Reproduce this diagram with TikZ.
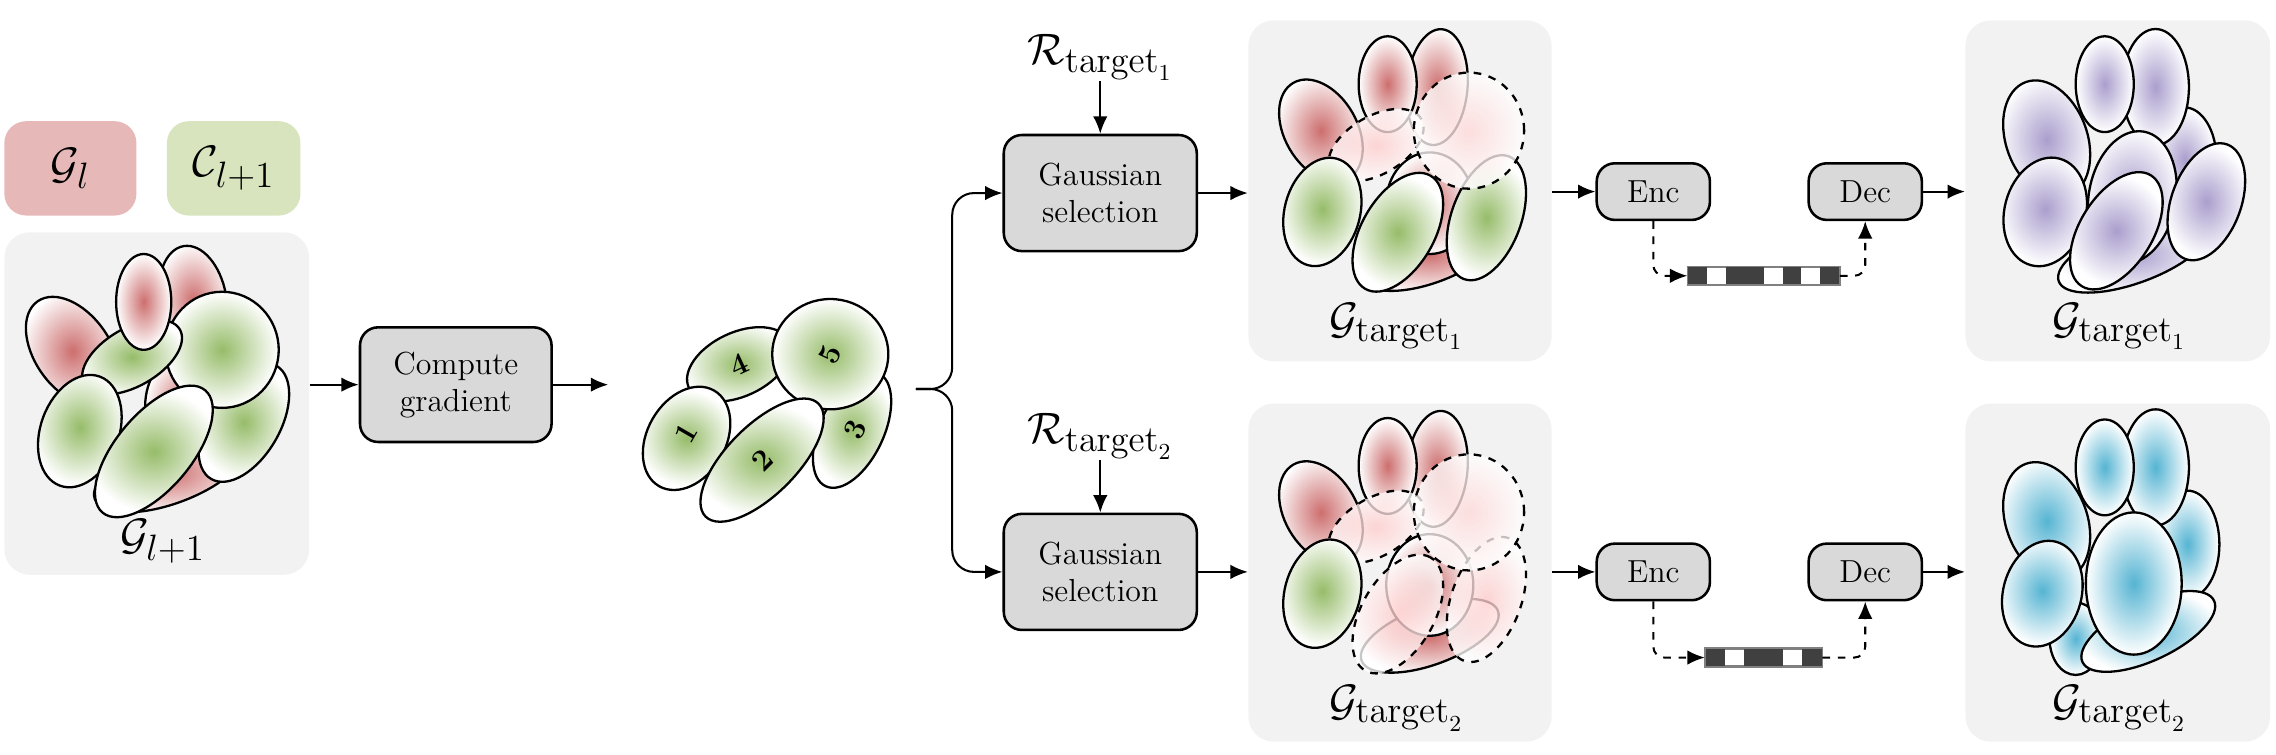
\documentclass[tikz,border=0pt]{standalone}
\usetikzlibrary{arrows.meta}
\definecolor{redc}{RGB}{205,110,110}
\definecolor{greenc}{RGB}{150,188,105}
\definecolor{purc}{RGB}{170,158,205}
\definecolor{bluc}{RGB}{85,180,210}
\definecolor{glfill}{RGB}{230,185,184}
\definecolor{clfill}{RGB}{215,228,189}
\definecolor{panelc}{RGB}{242,242,242}
\definecolor{boxc}{RGB}{217,217,217}
\definecolor{barc}{RGB}{64,64,64}
\newcommand\gell[7]{\shade[draw=black,line width=0.9pt,inner color=#6,outer color=white,rotate around={#5:(#1,-#2)},#7] (#1,-#2) ellipse (#3 and #4);}
\tikzset{
  panel/.style={fill=panelc,rounded corners=0.35cm,inner sep=0},
  box/.style={draw=black,line width=1pt,fill=boxc,rounded corners=0.25cm,align=center,font=\fontsize{12.5}{14.5}\selectfont,inner sep=0},
  arr/.style={-{Latex[length=2.4mm,width=2mm]},line width=0.8pt},
  dsh/.style={dashed,fill opacity=0.78},
  lab/.style={font=\fontsize{19}{21}\selectfont,inner sep=0},
  num/.style={font=\fontsize{12}{14}\selectfont\bfseries,inner sep=0}
}
\begin{document}
\begin{tikzpicture}[x=0.02cm,y=0.02cm]
\useasboundingbox (0,0) rectangle (1568,-520);
\node[panel,fill=glfill,rounded corners=0.3cm,minimum width=1.82cm,minimum height=1.3cm] (gl) at (48.5,-116) {};
\node[lab] at (gl) {$\mathcal{G}_l$};
\node[panel,fill=clfill,rounded corners=0.3cm,minimum width=1.84cm,minimum height=1.3cm] (cl) at (161,-116) {};
\node[lab] at (cl) {$\mathcal{C}_{l+1}$};
\node[panel,minimum width=4.2cm,minimum height=4.72cm] (lp) at (108,-278) {};
\node[panel,minimum width=4.18cm,minimum height=4.7cm] (m1) at (964.5,-131.5) {};
\node[panel,minimum width=4.2cm,minimum height=4.7cm] (o1) at (1459,-131.5) {};
\node[panel,minimum width=4.18cm,minimum height=4.66cm] (m2) at (964.5,-394.5) {};
\node[panel,minimum width=4.2cm,minimum height=4.66cm] (o2) at (1459,-394.5) {};
\gell{117}{325}{55}{22}{20}{redc}{}
\gell{125}{280}{25}{35}{0}{redc}{}
\gell{168}{291}{45}{25}{60}{greenc}{}
\gell{50}{242}{42}{26}{-55}{redc}{}
\gell{133}{207}{23}{38}{10}{redc}{}
\gell{153}{241}{39}{40}{0}{greenc}{}
\gell{91}{246}{38}{20}{30}{greenc}{}
\gell{99}{208}{19}{33}{0}{redc}{}
\gell{55}{297}{40}{27}{70}{greenc}{}
\gell{106}{311}{55}{26}{50}{greenc}{}
\node[lab] at (112,-373) {$\mathcal{G}_{l+1}$};
\node[box,minimum width=2.64cm,minimum height=1.58cm] (cg) at (314,-265) {Compute\\gradient};
\coordinate (ce) at (419,-265);
\draw[arr] (lp.east|-cg.west) -- (cg.west);
\draw[arr] (cg.east) -- (ce);
\gell{587}{296}{43}{22}{65}{greenc}{}
\gell{509}{251}{38}{22}{25}{greenc}{}
\gell{572}{244}{40}{38}{0}{greenc}{}
\gell{473}{302}{38}{27}{60}{greenc}{}
\gell{525}{317}{55}{24}{45}{greenc}{}
\node[num,rotate=60] at (473,-298) {1};
\node[num,rotate=45] at (525,-317) {2};
\node[num,rotate=65] at (589,-296) {3};
\node[num,rotate=25] at (509,-251) {4};
\node[num,rotate=65] at (572,-244) {5};
\coordinate (fork) at (631,-268);
\node[box,minimum width=2.66cm,minimum height=1.6cm] (gs1) at (758,-133) {Gaussian\\selection};
\node[box,minimum width=2.66cm,minimum height=1.6cm] (gs2) at (758,-394) {Gaussian\\selection};
\draw[arr,rounded corners=0.3cm] (fork) -- (656,-268) |- (gs1.west);
\draw[arr,rounded corners=0.3cm] (fork) -- (656,-268) |- (gs2.west);
\node[lab,anchor=south] (r1) at (758,-56) {$\mathcal{R}_{\mathrm{target}_1}$};
\node[lab,anchor=south] (r2) at (758,-317) {$\mathcal{R}_{\mathrm{target}_2}$};
\draw[arr] (r1.south) -- (gs1.north);
\draw[arr] (r2.south) -- (gs2.north);
\draw[arr] (gs1.east) -- (m1.west|-gs1.east);
\draw[arr] (gs2.east) -- (m2.west|-gs2.east);
\gell{985}{175}{50}{20}{20}{redc}{}
\gell{985}{140}{30}{35}{0}{redc}{}
\gell{1024}{150}{45}{24}{70}{greenc}{}
\gell{910}{90}{38}{25}{-60}{redc}{}
\gell{990}{60}{21}{40}{-5}{redc}{}
\gell{956}{58}{20}{33}{0}{redc}{}
\gell{948}{100}{36}{20}{30}{red!20}{dsh}
\gell{1012}{90}{38}{40}{0}{red!15}{dsh}
\gell{911}{146}{38}{26}{75}{greenc}{}
\gell{963}{160}{45}{25}{60}{greenc}{}
\node[lab] at (962,-225) {$\mathcal{G}_{\mathrm{target}_1}$};
\gell{985}{438}{50}{20}{20}{redc}{}
\gell{985}{403}{30}{35}{0}{redc}{}
\gell{1024}{413}{45}{24}{70}{red!20}{dsh}
\gell{910}{353}{38}{25}{-60}{redc}{}
\gell{990}{323}{21}{40}{-5}{redc}{}
\gell{956}{321}{20}{33}{0}{redc}{}
\gell{948}{363}{36}{20}{30}{red!20}{dsh}
\gell{1012}{353}{38}{40}{0}{red!15}{dsh}
\gell{963}{423}{45}{25}{60}{red!20}{dsh}
\gell{911}{409}{38}{26}{75}{greenc}{}
\node[lab] at (962,-488) {$\mathcal{G}_{\mathrm{target}_2}$};
\node[box,minimum width=1.56cm,minimum height=0.78cm] (enc1) at (1139,-132) {Enc};
\node[box,minimum width=1.56cm,minimum height=0.78cm] (dec1) at (1285,-132) {Dec};
\draw[arr] (m1.east|-enc1.west) -- (enc1.west);
\draw[arr] (dec1.east) -- (o1.west|-dec1.east);
\node[draw=gray,fill=white,line width=0.6pt,minimum width=2.08cm,minimum height=0.24cm,inner sep=0] (bar1) at (1215,-190) {};
\foreach \i in {0,2,3,5,7}{\fill[barc] (1163+13*\i,-184) rectangle ++(13,-12);}
\draw[gray,line width=0.6pt] (bar1.south west) rectangle (bar1.north east);
\draw[arr,dashed,rounded corners=0.15cm] (enc1.south) |- (bar1.west);
\draw[arr,dashed,rounded corners=0.15cm] (bar1.east) -| (dec1.south);
\node[box,minimum width=1.56cm,minimum height=0.78cm] (enc2) at (1139,-394) {Enc};
\node[box,minimum width=1.56cm,minimum height=0.78cm] (dec2) at (1285,-394) {Dec};
\draw[arr] (m2.east|-enc2.west) -- (enc2.west);
\draw[arr] (dec2.east) -- (o2.west|-dec2.east);
\node[draw=gray,fill=white,line width=0.6pt,minimum width=1.6cm,minimum height=0.24cm,inner sep=0] (bar2) at (1215,-453) {};
\foreach \i in {0,2,3,5}{\fill[barc] (1175+13.33*\i,-447) rectangle ++(13.33,-12);}
\draw[gray,line width=0.6pt] (bar2.south west) rectangle (bar2.north east);
\draw[arr,dashed,rounded corners=0.15cm] (enc2.south) |- (bar2.west);
\draw[arr,dashed,rounded corners=0.15cm] (bar2.east) -| (dec2.south);
\gell{1470}{175}{55}{20}{20}{purc}{}
\gell{1505}{110}{22}{36}{0}{purc}{}
\gell{1410}{96}{42}{28}{-70}{purc}{}
\gell{1485}{60}{23}{40}{0}{purc}{}
\gell{1450}{58}{20}{33}{0}{purc}{}
\gell{1469}{136}{30}{46}{-10}{purc}{}
\gell{1520}{139}{42}{24}{70}{purc}{}
\gell{1409}{146}{38}{28}{75}{purc}{}
\gell{1458}{159}{45}{25}{58}{purc}{}
\node[lab] at (1460,-225) {$\mathcal{G}_{\mathrm{target}_1}$};
\gell{1430}{440}{18}{25}{0}{bluc}{}
\gell{1507}{375}{22}{37}{0}{bluc}{}
\gell{1410}{359}{42}{28}{-70}{bluc}{}
\gell{1485}{322}{23}{40}{0}{bluc}{}
\gell{1450}{322}{20}{33}{0}{bluc}{}
\gell{1407}{409}{37}{27}{75}{bluc}{}
\gell{1480}{435}{50}{20}{25}{bluc}{}
\gell{1470}{402}{33}{49}{0}{bluc}{}
\node[lab] at (1460,-488) {$\mathcal{G}_{\mathrm{target}_2}$};
\end{tikzpicture}
\end{document}
